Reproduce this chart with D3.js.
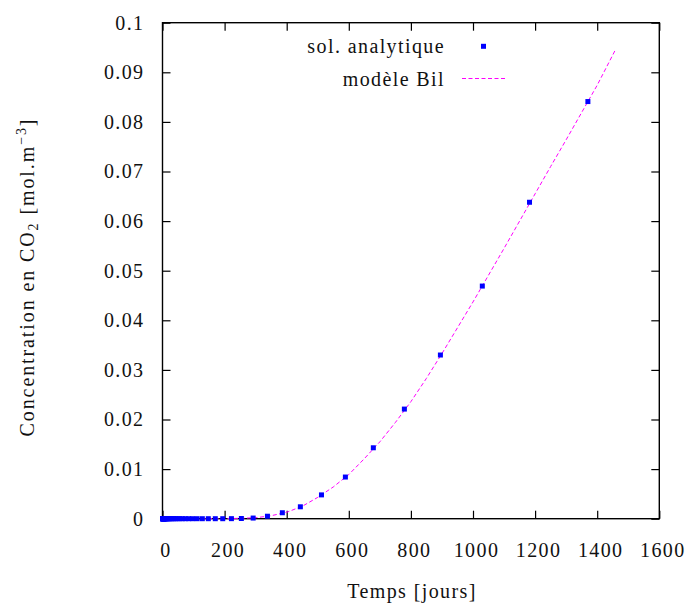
<!DOCTYPE html>
<html>
<head>
<meta charset="utf-8">
<script src="https://cdn.jsdelivr.net/npm/d3@7"></script>
<style>
  html, body { margin: 0; padding: 0; background: #fff; }
  svg text { font-family: "Liberation Serif", "Times New Roman", serif; fill: #111; }
</style>
</head>
<body>
<svg id="chart" width="687" height="603"></svg>
<script>
// ---- data ----
const pointDays = [0, 1.0, 1.1, 1.3, 1.5, 1.7, 1.9, 2.2, 2.6, 2.9, 3.4, 3.9, 4.5, 5.2, 5.9, 6.8, 7.8, 9.0, 10.4, 11.9, 13.7, 15.8, 18.1, 20.9, 24.0, 27.6, 31.7, 36.5, 41.9, 48.2, 55.5, 63.8, 73.4, 84.4, 97.0, 111.5, 128.3, 147.5, 170, 194, 222, 254, 292, 338, 386, 444, 512, 589, 679, 779, 895, 1030, 1182, 1370];
const pointConc = [0, 0, 0, 0, 0, 0, 0, 0, 0, 0, 0, 0, 0, 0, 0, 0, 0, 0, 0, 0, 0, 0, 0, 0, 0, 0, 0, 0, 0, 0, 0, 0, 0, 0, 0, 0, 0, 0, 0, 0, 0.00001, 0.00004, 0.00013, 0.0005, 0.0012, 0.0024, 0.0048, 0.0084, 0.0143, 0.0221, 0.0330, 0.0469, 0.0638, 0.0841];

const lineDays = [0, 50, 100, 150, 200, 250, 300, 350, 400, 450, 500, 550, 600, 650, 700, 750, 800, 850, 900, 950, 1000, 1050, 1100, 1150, 1200, 1250, 1300, 1350, 1400, 1460];
const lineConc = [0, 0, 0, 0, 0.00002, 0.00008, 0.0002, 0.0006, 0.0013, 0.0025, 0.0043, 0.0064, 0.0089, 0.0121, 0.0155, 0.0194, 0.0236, 0.0283, 0.0333, 0.0385, 0.0437, 0.0491, 0.0545, 0.0600, 0.0655, 0.0710, 0.0764, 0.0819, 0.0874, 0.0947];

const xTicks = [0, 200, 400, 600, 800, 1000, 1200, 1400, 1600];
const yTicks = [0, 0.01, 0.02, 0.03, 0.04, 0.05, 0.06, 0.07, 0.08, 0.09, 0.1];
const yTickLabels = ["0", "0.01", "0.02", "0.03", "0.04", "0.05", "0.06", "0.07", "0.08", "0.09", "0.1"];
const legendLabels = ["sol. analytique", "modèle Bil"];

// ---- layout ----
const pL = 162.5, pR = 659.3, pT = 22.7, pB = 518.7;
const svg = d3.select("#chart");
const x = d3.scaleLinear().domain([0, 1600]).range([pL, pR]);
const y = d3.scaleLinear().domain([0, 0.1]).range([pB, pT]);
const FS = 20, LS = "1.4px";
const tickLen = 8;

const axB = svg.append("g").attr("transform", `translate(0,${pB})`)
  .call(d3.axisBottom(x).tickValues(xTicks).tickSize(-tickLen).tickPadding(32).tickFormat(d3.format("d")));
const axT = svg.append("g").attr("transform", `translate(0,${pT})`)
  .call(d3.axisTop(x).tickValues(xTicks).tickSize(-tickLen).tickFormat(""));
const axL = svg.append("g").attr("transform", `translate(${pL},0)`)
  .call(d3.axisLeft(y).tickValues(yTicks).tickSize(-tickLen).tickPadding(18).tickFormat((d, i) => yTickLabels[i]));
const axR = svg.append("g").attr("transform", `translate(${pR},0)`)
  .call(d3.axisRight(y).tickValues(yTicks).tickSize(-tickLen).tickFormat(""));

[axB, axT, axL, axR].forEach(g => {
  g.select(".domain").remove();
  g.selectAll(".tick line").attr("stroke", "#000").attr("stroke-width", 1.2);
  g.selectAll("text").attr("font-size", FS).attr("font-family", "Liberation Serif, serif")
    .attr("letter-spacing", LS).attr("fill", "#111");
});
axB.selectAll(".tick text").attr("dy", "0.32em").attr("dx", 3);

// border
svg.append("rect").attr("x", pL).attr("y", pT)
  .attr("width", pR - pL).attr("height", pB - pT)
  .attr("fill", "none").attr("stroke", "#000").attr("stroke-width", 1.4);

// model line
const lineGen = d3.line().x(d => x(d[0])).y(d => y(d[1]));
svg.append("path")
  .datum(lineDays.map((d, i) => [d, lineConc[i]]))
  .attr("d", lineGen)
  .attr("fill", "none")
  .attr("stroke", "#ff00ff")
  .attr("stroke-width", 1)
  .attr("stroke-dasharray", "4,2.5");

// points
const ms = 5;
svg.append("g").selectAll("rect")
  .data(pointDays.map((d, i) => [d, pointConc[i]]))
  .join("rect")
  .attr("x", d => x(d[0]) - ms / 2)
  .attr("y", d => y(d[1]) - ms / 2)
  .attr("width", ms).attr("height", ms)
  .attr("fill", "#0000ff");

// legend
const lg = svg.append("g");
lg.append("text").attr("x", 445).attr("y", 46).attr("dy", "0.35em")
  .attr("text-anchor", "end").attr("font-size", FS).attr("letter-spacing", LS)
  .text(legendLabels[0]);
lg.append("rect").attr("x", 483.5 - ms / 2).attr("y", 46.3 - ms / 2)
  .attr("width", ms).attr("height", ms).attr("fill", "#0000ff");
lg.append("text").attr("x", 445).attr("y", 78.5).attr("dy", "0.35em")
  .attr("text-anchor", "end").attr("font-size", FS).attr("letter-spacing", LS)
  .text(legendLabels[1]);
lg.append("line").attr("x1", 462).attr("x2", 506).attr("y1", 78.5).attr("y2", 78.5)
  .attr("stroke", "#ff00ff").attr("stroke-width", 1).attr("stroke-dasharray", "4,2.5");

// axis titles
svg.append("text").attr("x", 412).attr("y", 598)
  .attr("text-anchor", "middle").attr("font-size", FS).attr("letter-spacing", LS)
  .text("Temps [jours]");

const yt = svg.append("text")
  .attr("transform", "translate(34,277) rotate(-90)")
  .attr("text-anchor", "middle").attr("font-size", FS).attr("letter-spacing", "1.9px");
yt.append("tspan").text("Concentration en CO");
yt.append("tspan").attr("font-size", 14).attr("dy", 4).text("2");
yt.append("tspan").attr("dy", -4).text(" [mol.m");
yt.append("tspan").attr("font-size", 14).attr("dy", -8).text("−3");
yt.append("tspan").attr("dy", 8).text("]");
</script>
</body>
</html>
